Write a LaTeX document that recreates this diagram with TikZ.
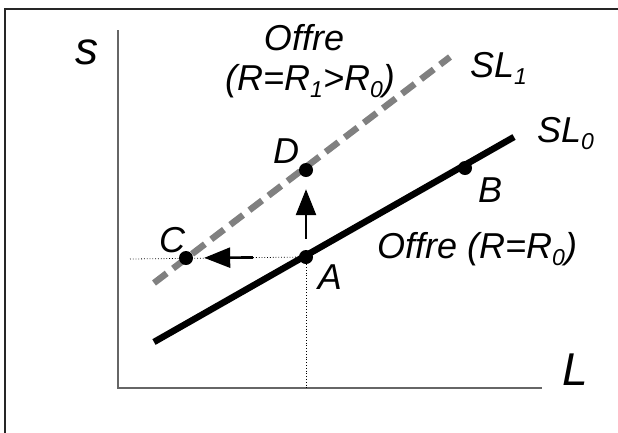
\documentclass[tikz,border=0pt]{standalone}
\usepackage{fontspec}
\setmainfont{Liberation Sans}
\usetikzlibrary{arrows.meta}
\newcommand{\mysub}[1]{\raisebox{-0.22em}{\fontsize{23}{23}\selectfont #1}}
\begin{document}
\begin{tikzpicture}[x=1pt,y=-1pt,
  lbl/.style={font=\fontsize{36}{40}\selectfont\itshape, inner sep=0pt},
  biglbl/.style={font=\fontsize{46}{50}\selectfont\itshape, inner sep=0pt},
  pt/.style={circle, fill=black, minimum size=14pt, inner sep=0pt},
  axisline/.style={draw=black!60, line width=1.3pt},
  guide/.style={dotted, line width=0.8pt},
  movearrow/.style={line width=2.6pt, -{Triangle[length=26pt,width=20pt]}},
  supply0/.style={line width=6.5pt},
  supply1/.style={line width=6.5pt, draw=black!50, dash pattern=on 16pt off 8pt}]
\useasboundingbox (0,0) rectangle (618,432);
% frame (only top and left visible)
\draw[line width=1.6pt, draw=black!85] (5,440) -- (5,9) -- (630,9);
% axes
\coordinate (o) at (118,388);
\coordinate (ytop) at (118,30);
\coordinate (xend) at (542,388);
\draw[axisline] (ytop) -- (o) -- (xend);
% supply curves
\coordinate (s0a) at (154,342);
\coordinate (s0b) at (514,137);
\coordinate (s1a) at (154,283);
\coordinate (s1b) at (450,57);
\draw[supply1] (s1a) -- (s1b);
\draw[supply0] (s0a) -- (s0b);
% points
\node[pt] (A) at (306,257) {};
\node[pt] (B) at (465,168) {};
\node[pt] (C) at (186,258) {};
\node[pt] (D) at (306,170) {};
\coordinate (Abot) at (306,388);
\coordinate (Aleft) at (130,259);
% guides
\draw[guide] (Aleft) -- (A);
\draw[guide] (A) -- (Abot);
% arrows
\draw[movearrow, shorten <=11pt, shorten >=12pt] (A) -- (D);
\draw[movearrow, shorten <=46pt, shorten >=11pt] (A) -- (C);
% labels
\node[biglbl] (ls) at (87,52) {s};
\node[biglbl] (lL) at (575,370) {L};
\node[lbl] (lD) at (286,151) {D};
\node[lbl] (lB) at (490,190) {B};
\node[lbl] (lC) at (172,240) {C};
\node[lbl] (lA) at (330,277) {A};
\node[lbl, anchor=base west] (lsl1) at (470,77) {SL\mysub{1}};
\node[lbl, anchor=base west] (lsl0) at (537,142) {SL\mysub{0}};
\node[lbl, anchor=base] (loff1) at (304,50) {Offre};
\node[lbl, anchor=base] (loff2) at (310,90) {(R=R\mysub{1}>R\mysub{0})};
\node[lbl, anchor=base west] (loff0) at (377,258) {Offre (R=R\mysub{0})};
\end{tikzpicture}
\end{document}
